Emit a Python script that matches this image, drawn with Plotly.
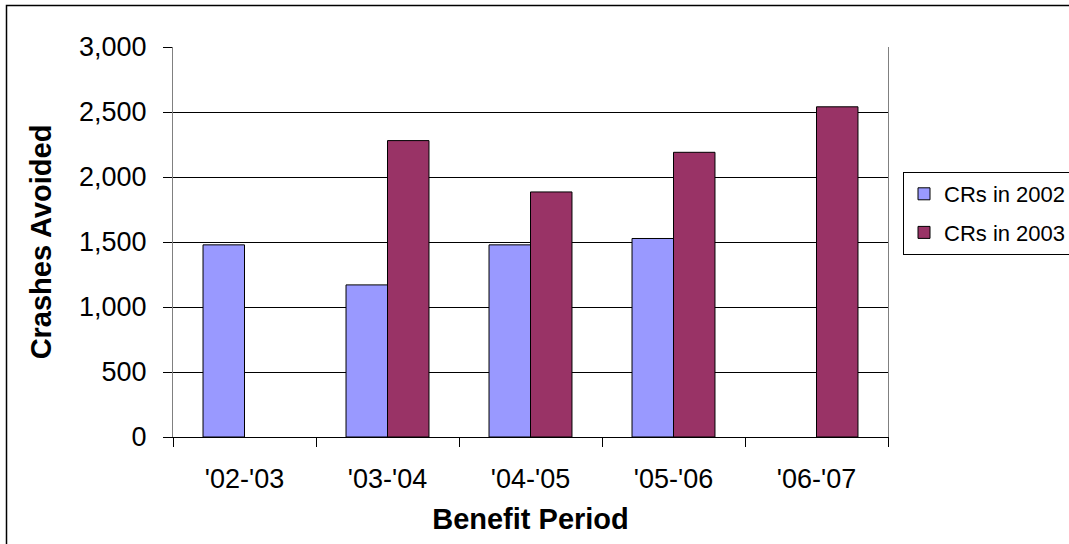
import plotly.graph_objects as go

categories = ["'02-'03", "'03-'04", "'04-'05", "'05-'06", "'06-'07"]
crs_2002 = [1478, 1170, 1478, 1527, None]
crs_2003 = [None, 2280, 1885, 2190, 2540]
y_ticks = [0, 500, 1000, 1500, 2000, 2500, 3000]

W, H = 1069, 544
L, R, T, B = 173, 888, 47, 437

fig = go.Figure()
fig.add_trace(go.Bar(name="CRs in 2002", x=categories, y=crs_2002,
                     marker=dict(color="#9999FF", line=dict(color="#000000", width=1)),
                     legendgroup="a"))
fig.add_trace(go.Bar(name="CRs in 2003", x=categories, y=crs_2003,
                     marker=dict(color="#993366", line=dict(color="#000000", width=1)),
                     legendgroup="b"))

font = "Liberation Sans, Arial, sans-serif"
fig.update_layout(
    width=W, height=H,
    margin=dict(l=L, r=W - R, t=T, b=H - B, autoexpand=False),
    paper_bgcolor="white", plot_bgcolor="white",
    barmode="group", bargap=0.42, bargroupgap=0,
    font=dict(family=font, color="black", size=27),
    showlegend=True,
    legend=dict(xref="container", yref="container",
                x=903 / W, y=1 - 172 / H, xanchor="left", yanchor="top",
                bordercolor="black", borderwidth=1, bgcolor="white",
                font=dict(size=22, family=font, color="black"),
                tracegroupgap=7),
    xaxis=dict(
        title=dict(text="<b>Benefit Period</b>", font=dict(size=29), standoff=15),
        showline=True, linecolor="black", linewidth=1,
        ticks="outside", ticklen=9, tickcolor="black", tickson="boundaries",
        ticklabelstandoff=18, showgrid=False,
    ),
    yaxis=dict(
        title=dict(text="<b>Crashes Avoided</b>", font=dict(size=29), standoff=18),
        range=[0, 3000], tickvals=y_ticks, tickformat=",",
        showline=True, linecolor="#808080", linewidth=1, mirror=True,
        ticks="outside", ticklen=9, tickcolor="black",
        showgrid=True, gridcolor="black", gridwidth=1, zeroline=False,
        ticklabelstandoff=11,
    ),
    shapes=[dict(type="rect", xref="paper", yref="paper",
                 x0=(6.5 - L) / (R - L), x1=(1080 - L) / (R - L),
                 y0=(B - 560) / (B - T), y1=(B - 5.5) / (B - T),
                 line=dict(color="black", width=1.5), layer="below")],
)

fig.write_html("out.html",
               config={"displayModeBar": False},
               post_script="document.body.style.margin='0';document.body.style.overflow='hidden';")
